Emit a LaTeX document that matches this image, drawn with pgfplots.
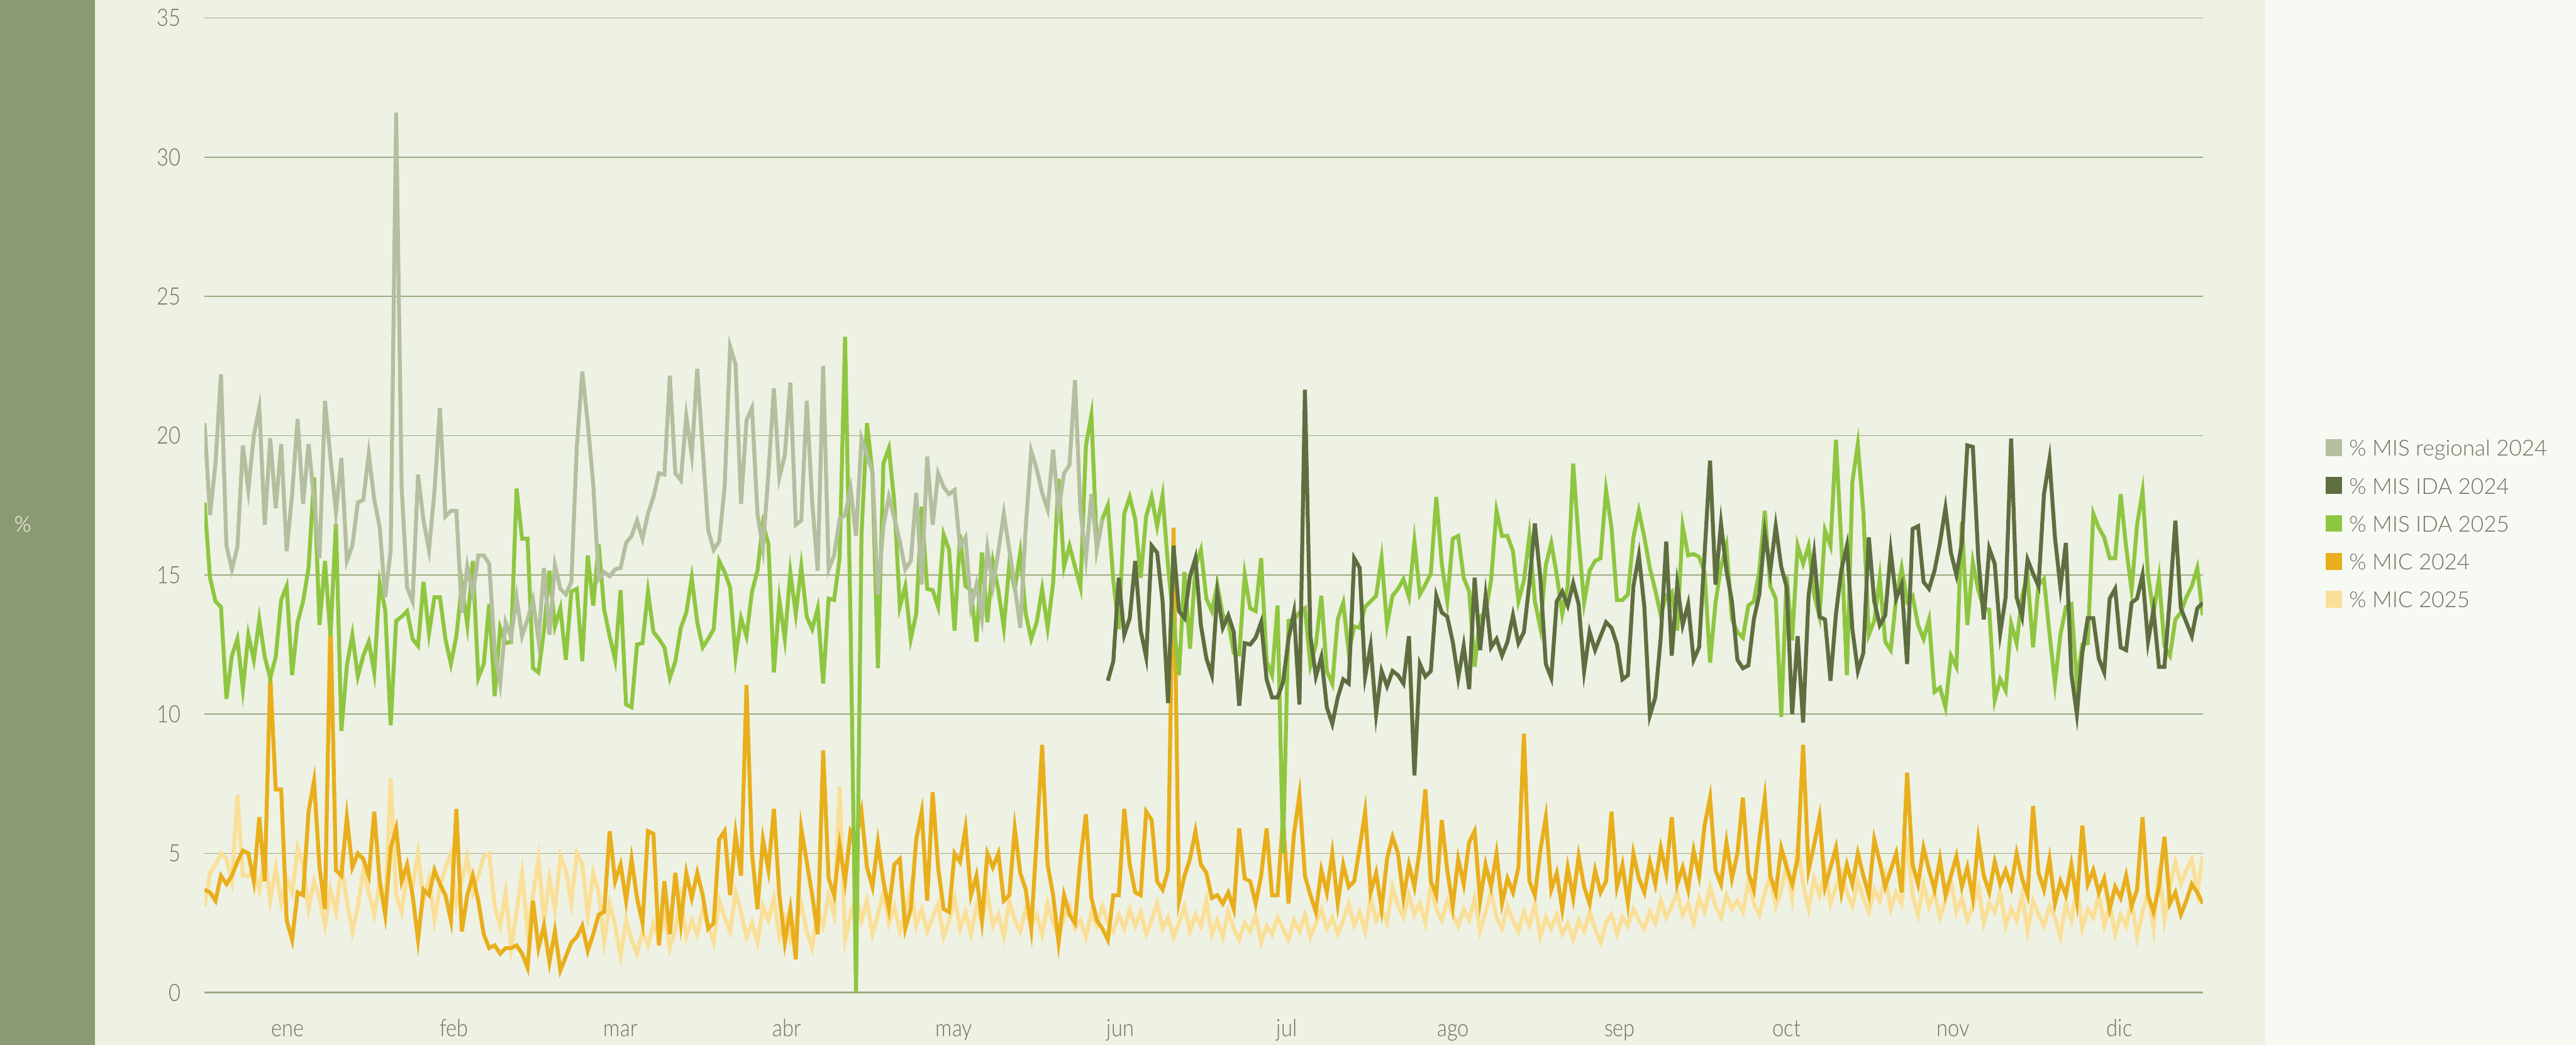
\documentclass[border=0pt]{standalone}
\usepackage{fontspec}
\setmainfont{Lato}[UprightFont=* Light]
\newfontfamily\tickfont{Lato}[UprightFont=* Light, FakeStretch=0.86]
\usepackage{pgfplots}
\pgfplotsset{compat=1.18}
\usepackage{pgfplotstable}
\definecolor{barc}{HTML}{8B9A72}
\definecolor{plotbg}{HTML}{EEF2E4}
\definecolor{rightbg}{HTML}{F7F9F3}
\definecolor{gridc}{HTML}{9BAB82}
\definecolor{txt}{HTML}{6B7061}
\definecolor{creg}{HTML}{B3BF9F}
\definecolor{cidaa}{HTML}{5E6E40}
\definecolor{cidab}{HTML}{8FC641}
\definecolor{cmica}{HTML}{E8AE1C}
\definecolor{cmicb}{HTML}{FADF98}
\pgfplotstableread{
d reg idaa idab mica micb
0 20.45 nan 17.6 3.7 3.1
1 17.15 nan 14.9 3.6 4.3
2 19.0 nan 14.05 3.3 4.6
3 22.2 nan 13.85 4.2 5.0
4 16.05 nan 10.55 3.9 4.8
5 15.2 nan 12.1 4.2 4.0
6 16.0 nan 12.7 4.7 7.1
7 19.65 nan 10.9 5.1 4.2
8 18.05 nan 12.85 5.0 4.2
9 20.0 nan 11.95 4.0 4.4
10 21.0 nan 13.4 6.3 3.7
11 16.8 nan 12.05 4.0 4.9
12 19.9 nan 11.3 11.4 3.3
13 17.4 nan 12.05 7.3 4.5
14 19.7 nan 14.1 7.3 3.2
15 15.85 nan 14.6 2.6 4.1
16 17.9 nan 11.4 1.9 3.6
17 20.6 nan 13.3 3.6 5.2
18 17.55 nan 14.05 3.5 4.6
19 19.7 nan 15.25 6.5 3.0
20 17.7 nan 18.5 7.6 4.0
21 15.6 nan 13.2 4.5 3.4
22 21.25 nan 15.5 3.0 2.4
23 19.2 nan 12.8 13.5 3.7
24 17.25 nan 16.85 4.4 2.9
25 19.2 nan 9.4 4.2 4.6
26 15.5 nan 11.75 6.3 3.3
27 16.05 nan 12.85 4.5 2.2
28 17.6 nan 11.35 5.0 3.1
29 17.7 nan 12.1 4.8 4.4
30 19.35 nan 12.6 4.2 3.6
31 17.7 nan 11.5 6.5 2.8
32 16.7 nan 14.7 4.0 4.0
33 14.2 nan 13.75 2.8 3.1
34 15.9 nan 9.6 5.2 7.7
35 31.6 nan 13.35 5.9 3.5
36 18.15 nan 13.5 4.0 2.9
37 14.55 nan 13.7 4.6 4.3
38 14.05 nan 12.7 3.5 3.8
39 18.6 nan 12.45 1.9 5.0
40 16.95 nan 14.75 3.7 3.3
41 15.9 nan 12.9 3.5 4.1
42 18.0 nan 14.2 4.4 2.6
43 21.0 nan 14.2 3.9 3.8
44 17.1 nan 12.7 3.5 4.5
45 17.3 nan 11.8 2.6 5.0
46 17.3 nan 12.8 6.6 3.2
47 13.65 nan 14.65 2.2 4.0
48 15.3 nan 13.2 3.5 4.9
49 14.3 nan 15.5 4.2 3.6
50 15.7 nan 11.3 3.3 4.2
51 15.7 nan 11.8 2.1 4.9
52 15.4 nan 13.95 1.6 5.0
53 12.3 nan 10.65 1.7 3.1
54 11.1 nan 13.1 1.4 2.4
55 13.3 nan 12.55 1.6 3.6
56 12.75 nan 12.6 1.6 1.6
57 14.2 nan 18.1 1.7 2.9
58 12.8 nan 16.3 1.4 4.3
59 13.4 nan 16.3 0.9 2.2
60 14.1 nan 11.65 3.3 3.5
61 12.65 nan 11.5 1.6 4.8
62 15.25 nan 13.0 2.4 2.6
63 12.85 nan 15.15 1.1 4.1
64 15.35 nan 13.15 2.2 3.0
65 14.5 nan 13.8 0.8 4.9
66 14.3 nan 11.95 1.3 4.4
67 14.75 nan 14.4 1.8 3.2
68 19.6 nan 14.5 2.0 5.0
69 22.3 nan 11.9 2.4 4.6
70 20.45 nan 15.7 1.5 2.8
71 18.25 nan 13.9 2.1 4.3
72 14.85 nan 16.1 2.8 3.6
73 15.1 nan 13.75 2.9 1.8
74 14.95 nan 12.8 5.8 3.2
75 15.2 nan 11.95 4.0 2.4
76 15.25 nan 14.45 4.6 1.3
77 16.15 nan 10.35 3.3 2.6
78 16.4 nan 10.25 4.8 1.9
79 16.95 nan 12.5 3.4 1.4
80 16.3 nan 12.55 2.5 2.2
81 17.2 nan 14.4 5.8 1.7
82 17.8 nan 12.95 5.7 2.5
83 18.65 nan 12.7 1.7 1.9
84 18.6 nan 12.4 4.0 2.8
85 22.15 nan 11.3 2.1 1.6
86 18.65 nan 11.9 4.3 2.3
87 18.4 nan 13.1 2.5 3.4
88 20.7 nan 13.65 4.3 2.0
89 19.3 nan 14.9 3.4 2.6
90 22.4 nan 13.3 4.3 2.1
91 19.5 nan 12.4 3.5 3.0
92 16.6 nan 12.7 2.3 2.4
93 15.9 nan 13.05 2.5 1.8
94 16.2 nan 15.5 5.5 3.3
95 18.15 nan 15.1 5.8 2.7
96 23.2 nan 14.55 3.5 2.2
97 22.55 nan 12.05 5.7 3.6
98 17.55 nan 13.45 4.2 2.9
99 20.55 nan 12.8 11.05 2.0
100 21.0 nan 14.4 5.0 2.5
101 17.2 nan 15.15 3.0 1.8
102 15.95 nan 16.85 5.5 3.1
103 18.65 nan 16.1 4.4 2.6
104 21.7 nan 11.5 6.6 3.4
105 18.5 nan 14.1 3.5 2.0
106 19.3 nan 12.7 1.8 2.7
107 21.9 nan 15.1 3.0 1.9
108 16.8 nan 13.6 1.2 2.5
109 16.95 nan 15.3 5.9 3.2
110 21.25 nan 13.5 4.7 2.2
111 17.6 nan 13.05 3.5 1.6
112 15.15 nan 13.8 2.1 3.0
113 22.5 nan 11.1 8.7 2.4
114 15.2 nan 14.15 4.1 3.5
115 15.7 nan 14.1 3.5 2.8
116 17.0 nan 15.6 5.3 7.4
117 17.15 nan 23.55 4.0 1.9
118 18.1 nan 13.3 5.8 2.8
119 16.4 nan 0 5.5 3.5
120 19.9 nan 16.45 6.5 2.6
121 19.3 nan 20.45 4.5 3.3
122 18.7 nan 18.65 3.8 2.1
123 14.3 nan 11.65 5.4 2.8
124 16.75 nan 19.0 4.0 3.6
125 17.8 nan 19.55 3.0 2.5
126 17.05 nan 17.6 4.6 3.1
127 16.2 nan 13.85 4.8 2.2
128 15.2 nan 14.6 2.3 2.9
129 15.5 nan 12.7 3.0 3.8
130 17.95 nan 13.6 5.5 2.4
131 14.65 nan 17.45 6.5 3.0
132 19.25 nan 14.5 3.3 2.2
133 16.8 nan 14.45 7.2 2.7
134 18.65 nan 13.85 4.5 3.2
135 18.15 nan 16.45 3.0 2.0
136 17.9 nan 15.9 2.9 2.6
137 18.05 nan 13.0 5.0 3.4
138 16.0 nan 16.45 4.7 2.3
139 16.35 nan 14.6 5.9 2.9
140 13.85 nan 14.45 3.5 2.1
141 14.65 nan 12.6 4.2 3.1
142 13.45 nan 15.8 2.6 2.5
143 15.95 nan 13.3 5.0 3.6
144 14.6 nan 15.45 4.5 2.4
145 15.85 nan 14.45 5.0 2.8
146 17.2 nan 13.1 3.3 2.0
147 15.9 nan 15.4 3.5 3.3
148 14.6 nan 14.5 5.9 2.6
149 13.1 nan 15.8 4.3 2.2
150 16.7 nan 13.6 3.7 3.0
151 19.45 nan 12.7 2.3 2.4
152 18.8 nan 13.3 5.5 2.8
153 17.95 nan 14.5 8.9 2.1
154 17.35 nan 13.1 4.6 3.2
155 19.5 nan 14.7 3.5 2.5
156 17.3 nan 18.45 1.8 2.0
157 18.65 nan 15.3 3.5 2.7
158 18.95 nan 16.05 2.8 3.1
159 22.0 nan 15.3 2.5 2.3
160 17.3 nan 14.55 4.8 2.6
161 15.6 nan 19.65 6.4 2.0
162 17.9 nan 20.75 3.4 2.9
163 15.95 nan 15.95 2.6 2.4
164 17.0 nan 17.0 2.3 3.1
165 nan 11.2 17.5 1.9 2.5
166 nan 11.9 14.8 3.5 2.2
167 nan 14.9 13.05 3.5 2.8
168 nan 12.85 17.2 6.6 2.3
169 nan 13.45 17.8 4.6 3.0
170 nan 15.5 17.0 3.6 2.4
171 nan 13.0 14.9 3.5 2.9
172 nan 12.05 17.1 6.5 2.1
173 nan 16.05 17.8 6.2 2.6
174 nan 15.8 16.75 4.0 3.2
175 nan 14.05 17.85 3.7 2.3
176 nan 10.4 15.3 4.4 2.7
177 nan 16.05 13.3 16.7 2.0
178 nan 13.7 11.4 3.3 2.5
179 nan 13.45 15.1 4.2 3.1
180 nan 14.95 12.35 4.8 2.2
181 nan 15.6 15.3 5.8 2.8
182 nan 13.2 15.9 4.6 2.4
183 nan 12.0 14.15 4.3 3.3
184 nan 11.4 13.7 3.4 2.1
185 nan 14.35 14.65 3.5 2.6
186 nan 13.1 13.55 3.2 2.0
187 nan 13.55 13.35 3.6 2.9
188 nan 12.95 12.2 3.0 2.3
189 nan 10.3 12.15 5.9 1.9
190 nan 12.55 15.0 4.1 2.5
191 nan 12.5 13.8 4.0 2.2
192 nan 12.75 13.7 3.2 2.8
193 nan 13.3 15.6 4.2 1.8
194 nan 11.25 11.9 5.9 2.4
195 nan 10.6 11.4 3.5 2.1
196 nan 10.6 13.9 3.5 2.7
197 nan 11.15 5.0 6.3 2.3
198 nan 12.7 13.35 3.2 1.9
199 nan 13.65 13.4 5.7 2.6
200 nan 10.35 13.65 7.1 2.2
201 nan 21.65 13.8 4.2 2.8
202 nan 12.8 11.75 3.5 2.0
203 nan 11.35 12.5 2.9 2.5
204 nan 12.05 14.25 4.4 3.0
205 nan 10.25 11.55 3.6 2.3
206 nan 9.65 11.1 5.0 2.7
207 nan 10.6 13.4 3.2 2.1
208 nan 11.25 14.0 4.6 2.6
209 nan 11.1 12.2 3.8 3.2
210 nan 15.6 13.15 4.0 2.4
211 nan 15.25 13.1 5.2 2.9
212 nan 11.35 13.85 6.5 2.2
213 nan 12.45 14.05 3.6 3.4
214 nan 10.0 14.25 4.3 2.6
215 nan 11.55 15.6 3.0 3.0
216 nan 11.0 13.2 4.8 2.5
217 nan 11.55 14.25 5.6 3.8
218 nan 11.4 14.5 5.0 3.1
219 nan 11.1 14.85 3.4 2.7
220 nan 12.8 14.2 4.6 3.5
221 nan 7.8 16.2 3.8 2.8
222 nan 11.8 14.3 5.2 3.2
223 nan 11.35 14.65 7.3 2.5
224 nan 11.55 15.05 4.0 3.9
225 nan 14.25 17.8 3.5 3.0
226 nan 13.65 15.4 6.2 2.6
227 nan 13.5 14.05 4.4 3.3
228 nan 12.6 16.3 3.1 2.8
229 nan 11.3 16.4 4.8 2.4
230 nan 12.45 14.9 3.9 3.0
231 nan 10.9 14.4 5.4 2.6
232 nan 14.9 11.7 5.8 3.4
233 nan 12.3 13.5 3.3 2.2
234 nan 14.25 13.65 4.6 2.9
235 nan 12.4 14.8 3.8 3.6
236 nan 12.7 17.3 5.0 2.7
237 nan 12.1 16.4 3.2 2.3
238 nan 12.6 16.4 4.1 3.1
239 nan 13.55 15.85 3.6 2.6
240 nan 12.55 14.05 4.5 2.2
241 nan 12.95 14.8 9.3 2.9
242 nan 14.7 16.4 4.0 2.4
243 nan 16.85 14.05 3.5 3.2
244 nan 14.9 13.1 5.1 2.0
245 nan 11.8 15.35 6.3 2.7
246 nan 11.3 16.15 3.7 2.3
247 nan 14.05 15.0 4.3 2.8
248 nan 14.4 13.6 3.0 2.1
249 nan 13.9 14.6 4.5 2.5
250 nan 14.7 19.0 3.4 1.9
251 nan 13.95 16.25 4.9 2.6
252 nan 11.55 14.0 3.8 2.2
253 nan 12.95 15.15 3.2 2.9
254 nan 12.3 15.5 4.4 2.3
255 nan 12.8 15.6 3.6 1.8
256 nan 13.3 18.05 4.0 2.5
257 nan 13.1 16.7 6.5 2.8
258 nan 12.5 14.1 3.8 2.1
259 nan 11.25 14.1 4.6 2.7
260 nan 11.4 14.3 3.2 2.4
261 nan 14.6 16.35 5.0 3.0
262 nan 15.7 17.3 4.1 2.6
263 nan 13.85 16.35 3.6 2.3
264 nan 9.95 15.25 4.7 2.9
265 nan 10.6 14.45 3.9 2.5
266 nan 12.75 13.55 5.2 3.3
267 nan 16.2 14.25 4.3 2.7
268 nan 12.1 14.4 6.3 3.1
269 nan 14.65 13.0 3.9 3.6
270 nan 13.2 16.75 4.5 2.8
271 nan 13.95 15.7 3.7 3.2
272 nan 11.95 15.75 5.1 2.5
273 nan 12.4 15.65 4.2 3.4
274 nan 15.75 15.1 6.0 2.9
275 nan 19.1 11.85 7.0 3.8
276 nan 14.65 14.0 4.4 3.1
277 nan 16.85 15.3 3.9 2.7
278 nan 15.15 16.05 5.4 3.5
279 nan 14.05 13.4 4.1 3.0
280 nan 11.95 12.95 5.0 3.3
281 nan 11.65 12.75 7.0 2.9
282 nan 11.75 13.9 4.3 4.0
283 nan 13.4 14.05 3.7 3.2
284 nan 14.3 15.15 5.5 2.8
285 nan 16.5 17.3 7.0 3.6
286 nan 15.15 14.6 4.2 4.2
287 nan 16.75 14.15 3.6 3.1
288 nan 15.3 9.9 5.2 3.7
289 nan 14.55 14.95 4.5 4.6
290 nan 10.0 12.65 3.9 3.4
291 nan 12.8 16.05 4.8 5.3
292 nan 9.7 15.4 8.9 3.9
293 nan 14.25 16.05 4.4 3.0
294 nan 15.75 14.3 5.3 4.1
295 nan 13.5 13.5 6.3 3.5
296 nan 13.4 16.6 3.8 4.4
297 nan 11.2 16.05 4.5 3.2
298 nan 13.6 19.85 5.2 3.8
299 nan 15.2 16.05 3.6 4.3
300 nan 16.05 11.4 4.6 3.6
301 nan 13.05 18.35 3.9 3.1
302 nan 11.55 19.7 5.0 4.0
303 nan 12.2 17.25 4.2 3.4
304 nan 16.35 12.85 3.5 2.9
305 nan 14.05 13.35 5.5 3.7
306 nan 13.2 14.9 4.7 3.3
307 nan 13.55 12.6 3.8 4.2
308 nan 15.85 12.3 4.4 3.0
309 nan 14.15 14.15 5.0 3.6
310 nan 14.65 15.25 3.6 3.2
311 nan 11.8 14.05 7.9 5.6
312 nan 16.65 14.25 4.6 3.5
313 nan 16.75 13.2 3.9 2.8
314 nan 14.75 12.7 5.2 3.9
315 nan 14.5 13.4 4.4 3.1
316 nan 15.15 10.8 3.7 3.6
317 nan 16.15 10.95 4.8 2.7
318 nan 17.4 10.25 3.5 3.3
319 nan 15.8 12.1 4.2 4.0
320 nan 15.0 11.7 4.9 2.9
321 nan 16.15 16.9 3.8 3.4
322 nan 19.65 13.2 4.5 2.6
323 nan 19.6 15.45 3.4 3.1
324 nan 15.6 14.45 5.5 3.8
325 nan 13.4 13.8 4.2 2.5
326 nan 15.95 13.75 3.6 3.2
327 nan 15.4 10.5 4.7 2.9
328 nan 12.9 11.25 3.9 3.6
329 nan 14.2 10.85 4.4 2.4
330 nan 19.9 13.25 3.8 3.0
331 nan 14.2 12.55 5.0 2.6
332 nan 13.5 14.25 4.1 3.5
333 nan 15.55 14.95 3.5 2.2
334 nan 15.05 12.4 6.7 3.3
335 nan 14.6 14.65 4.3 2.8
336 nan 17.9 14.85 3.7 2.4
337 nan 19.15 12.9 4.8 3.1
338 nan 16.35 11.1 3.2 2.7
339 nan 14.55 12.85 4.0 2.0
340 nan 16.15 13.85 3.5 3.2
341 nan 11.45 13.95 4.6 2.6
342 nan 10.0 11.1 3.3 3.8
343 nan 12.2 12.5 6.0 2.3
344 nan 13.45 12.55 3.9 3.0
345 nan 13.45 17.2 4.4 2.7
346 nan 12.0 16.7 3.6 3.5
347 nan 11.5 16.35 4.1 2.4
348 nan 14.15 15.6 3.0 3.2
349 nan 14.5 15.6 3.8 2.1
350 nan 12.4 17.9 3.4 2.8
351 nan 12.3 16.0 4.2 2.4
352 nan 14.0 14.45 3.1 3.3
353 nan 14.15 16.8 3.7 2.0
354 nan 15.0 18.0 6.3 2.9
355 nan 12.6 15.0 3.5 3.6
356 nan 13.75 13.6 2.9 2.3
357 nan 11.7 14.9 3.8 4.5
358 nan 11.7 12.45 5.6 2.6
359 nan 14.2 12.1 3.2 3.8
360 nan 16.95 13.4 3.6 4.7
361 nan 13.8 13.65 2.8 3.9
362 nan 13.3 14.2 3.3 4.4
363 nan 12.8 14.6 3.9 4.8
364 nan 13.8 15.25 3.6 3.6
365 nan 14.0 13.55 3.2 4.9
}\datatable
\begin{document}
\begin{tikzpicture}
\useasboundingbox (0,0) rectangle (949.6pt,385pt);
\fill[rightbg] (0,0) rectangle (949.6pt,385pt);
\fill[plotbg] (35pt,0) rectangle (835pt,385pt);
\fill[barc] (0,0) rectangle (35pt,385pt);
\node[text=white, font=\fontsize{8}{9}\selectfont, inner sep=0pt] at (8.4pt,191.8pt) {\%};
\begin{axis}[
  at={(75.4pt,19.2pt)}, anchor=south west,
  scale only axis, width=736.6pt, height=359.2pt,
  xmin=0, xmax=365, ymin=0, ymax=35,
  axis line style={draw=none},
  major tick length=0pt,
  ytick={0,5,10,15,20,25,30,35},
  ymajorgrids, grid style={gridc, line width=0.35pt},
  xtick={15.2,45.6,76.0,106.4,136.9,167.3,197.7,228.1,258.5,289.0,319.4,349.8},
  xticklabels={ene,feb,mar,abr,may,jun,jul,ago,sep,oct,nov,dic},
  /pgf/number format/assume math mode=true,
  tick label style={font=\tickfont\fontsize{8.8}{10}\selectfont, text=txt},
  yticklabel style={anchor=east, xshift=-5.2pt},
  xticklabel style={anchor=base, yshift=-16.2pt},
  unbounded coords=jump,
  reverse legend,
  legend cell align=left,
  legend image code/.code={\fill[#1,draw=none] (0pt,-3.1pt) rectangle (6.2pt,3.1pt);},
  legend style={draw=none, fill=none, at={(1.0611,0.4814)}, anchor=west,
    inner sep=0pt, font=\fontsize{8.1}{9}\selectfont, text=txt,
    row sep=7.75pt, column sep=2.6pt,
    nodes={inner sep=0pt, text height=6.2pt, text depth=0pt}},
]
\draw[gridc, line width=0.8pt] (axis cs:0,0) -- (axis cs:365,0);
\addplot[color=cmicb, line width=1.45pt] table[x=d, y=micb] {\datatable};
\addplot[color=cmica, line width=1.45pt] table[x=d, y=mica] {\datatable};
\addplot[color=cidab, line width=1.45pt] table[x=d, y=idab] {\datatable};
\addplot[color=cidaa, line width=1.45pt] table[x=d, y=idaa] {\datatable};
\addplot[color=creg, line width=1.45pt] table[x=d, y=reg] {\datatable};
\legend{\% MIC 2025, \% MIC 2024, \% MIS IDA 2025, \% MIS IDA 2024, \% MIS regional 2024}
\end{axis}
\end{tikzpicture}
\end{document}
